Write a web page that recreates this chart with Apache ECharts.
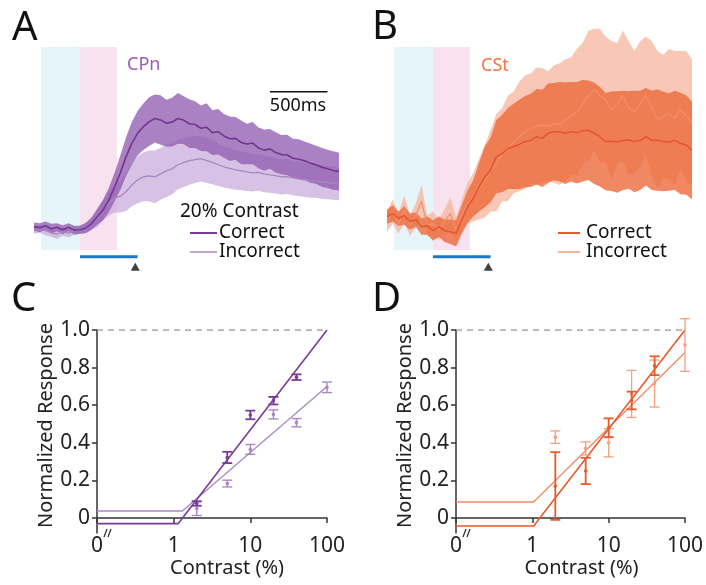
<!DOCTYPE html>
<html>
<head>
<meta charset="utf-8">
<script src="https://cdn.jsdelivr.net/npm/echarts@6/dist/echarts.min.js"></script>
<style>
html, body { margin: 0; padding: 0; background: #fff; }
#main { width: 706px; height: 585px; }
</style>
</head>
<body>
<div id="main"></div>
<script>
// time from stimulus onset (ms), shared by panels A and B
const timeMs = [-400,-350,-300,-250,-200,-150,-100,-50,0,50,100,150,200,250,300,350,400,450,500,550,
  600,650,700,750,800,850,900,950,1000,1050,1100,1150,1200,1250,1300,1350,1400,1450,1500,1550,
  1600,1650,1700,1750,1800,1850,1900,1950,2000,2050,2100,2150,2200,2250];

// A: CPn, 20% contrast (normalized rate, mean and sem)
const cpnCorrect = [0.115,0.11,0.12,0.105,0.112,0.10,0.112,0.098,0.10,0.108,0.13,0.164,0.197,0.246,0.31,0.38,0.46,0.525,0.575,0.607,
  0.632,0.648,0.64,0.625,0.63,0.648,0.64,0.622,0.618,0.60,0.605,0.578,0.583,0.562,0.548,0.55,0.53,0.522,0.527,0.503,
  0.492,0.498,0.48,0.47,0.468,0.452,0.447,0.44,0.428,0.42,0.408,0.40,0.392,0.386];
const cpnCorrectSem = [0.02,0.022,0.02,0.024,0.02,0.022,0.02,0.022,0.02,0.025,0.03,0.04,0.05,0.06,0.07,0.085,0.095,0.105,0.11,0.115,
  0.12,0.118,0.122,0.115,0.12,0.125,0.118,0.12,0.115,0.112,0.118,0.11,0.112,0.108,0.11,0.105,0.108,0.10,0.104,0.10,
  0.102,0.098,0.10,0.097,0.10,0.096,0.098,0.095,0.097,0.094,0.096,0.094,0.095,0.093];
const cpnIncorrect = [0.10,0.105,0.095,0.085,0.078,0.09,0.083,0.095,0.10,0.11,0.13,0.155,0.195,0.23,0.255,0.265,0.287,0.32,0.345,0.36,
  0.365,0.36,0.375,0.39,0.40,0.42,0.43,0.44,0.445,0.45,0.44,0.432,0.42,0.41,0.402,0.395,0.39,0.385,0.38,0.382,
  0.375,0.37,0.366,0.36,0.362,0.355,0.35,0.346,0.342,0.34,0.335,0.332,0.33,0.325];
const cpnIncorrectSem = [0.02,0.02,0.022,0.02,0.024,0.02,0.022,0.02,0.02,0.025,0.03,0.04,0.05,0.06,0.07,0.08,0.095,0.105,0.115,0.12,
  0.125,0.13,0.128,0.13,0.125,0.122,0.12,0.118,0.115,0.112,0.11,0.108,0.105,0.102,0.10,0.098,0.096,0.094,0.092,0.09,
  0.09,0.088,0.088,0.086,0.086,0.085,0.085,0.084,0.084,0.083,0.083,0.082,0.082,0.08];

// B: CSt
const cstCorrect = [0.164,0.18,0.155,0.17,0.14,0.15,0.115,0.12,0.095,0.115,0.095,0.09,0.082,0.15,0.213,0.255,0.31,0.36,0.394,0.46,
  0.475,0.50,0.51,0.52,0.534,0.54,0.558,0.55,0.575,0.583,0.583,0.575,0.583,0.578,0.588,0.59,0.575,0.558,0.534,0.536,
  0.532,0.54,0.542,0.534,0.54,0.558,0.54,0.542,0.534,0.532,0.54,0.525,0.517,0.49];
const cstCorrectSem = [0.035,0.04,0.035,0.045,0.04,0.035,0.04,0.045,0.05,0.05,0.055,0.06,0.065,0.07,0.08,0.09,0.12,0.15,0.16,0.18,
  0.19,0.20,0.21,0.22,0.225,0.23,0.235,0.24,0.245,0.24,0.245,0.25,0.245,0.25,0.25,0.245,0.25,0.245,0.24,0.245,
  0.25,0.245,0.24,0.25,0.245,0.24,0.245,0.25,0.245,0.24,0.245,0.25,0.245,0.24];
const cstIncorrect = [0.14,0.19,0.13,0.20,0.12,0.17,0.24,0.12,0.13,0.10,0.14,0.18,0.10,0.17,0.23,0.26,0.30,0.34,0.39,0.43,
  0.47,0.50,0.53,0.56,0.58,0.60,0.61,0.615,0.61,0.62,0.62,0.64,0.66,0.68,0.72,0.76,0.79,0.76,0.74,0.69,
  0.72,0.76,0.70,0.68,0.72,0.76,0.70,0.64,0.66,0.67,0.65,0.69,0.66,0.63];
const cstIncorrectSem = [0.05,0.06,0.05,0.07,0.05,0.06,0.08,0.05,0.06,0.05,0.06,0.08,0.06,0.08,0.10,0.12,0.15,0.18,0.20,0.24,
  0.23,0.26,0.25,0.27,0.28,0.27,0.29,0.28,0.27,0.29,0.30,0.30,0.29,0.31,0.30,0.32,0.30,0.33,0.31,0.34,
  0.30,0.32,0.33,0.30,0.31,0.29,0.33,0.34,0.30,0.32,0.33,0.29,0.32,0.31];

// task epochs (ms)
const epochFix = [-340, 0];
const epochStim = [0, 320];
const cueBar = [0, 500];
const cueMark = 480;
const scaleBar = [1650, 2150];

// C / D: contrast response (0% contrast sits at 0.1 on the log axis)
const contrasts = [2, 5, 10, 20, 40, 100];
const cpnRespCorrect = [0.077, 0.322, 0.548, 0.624, 0.749, null];
const cpnErrCorrect = [0.012, 0.03, 0.023, 0.02, 0.015, null];
const cpnRespIncorrect = [0.05, 0.183, 0.365, 0.551, 0.507, 0.695];
const cpnErrIncorrect = [0.037, 0.018, 0.026, 0.024, 0.022, 0.028];
const cstRespCorrect = [0.17, 0.25, 0.48, 0.625, 0.81, null];
const cstErrCorrect = [0.18, 0.07, 0.05, 0.047, 0.05, null];
const cstRespIncorrect = [0.43, 0.37, 0.40, 0.66, 0.715, 0.92];
const cstErrIncorrect = [0.033, 0.035, 0.075, 0.125, 0.125, 0.14];
const cpnFitCorrect = [[0.1, -0.03], [1.15, -0.03], [100, 1.0]];
const cpnFitIncorrect = [[0.1, 0.037], [1.3, 0.037], [100, 0.70]];
const cstFitCorrect = [[0.1, -0.043], [1.04, -0.043], [100, 1.0]];
const cstFitIncorrect = [[0.1, 0.085], [1.04, 0.085], [100, 0.88]];

const purple = '#7a3b9a', purpleLight = '#a987c4';
const orange = '#e85a2a', orangeLight = '#f08a62';
const FONT = 'Noto Sans';

const chart = echarts.init(document.getElementById('main'));

// mean +/- sem band drawn as one polygon through the axis scales
function band(idx, mean, sem, color, opacity) {
  return { type: 'custom', xAxisIndex: idx, yAxisIndex: idx, silent: true, z: 2, clip: true,
    data: [[timeMs[0], mean[0]]],
    renderItem: function (params, api) {
      const upper = timeMs.map((t, i) => api.coord([t, mean[i] + sem[i]]));
      const lower = timeMs.map((t, i) => api.coord([t, mean[i] - sem[i]])).reverse();
      return { type: 'polygon', shape: { points: upper.concat(lower) },
        style: { fill: color, opacity: opacity } };
    } };
}

function trace(idx, mean, color, w) {
  return { type: 'line', xAxisIndex: idx, yAxisIndex: idx, showSymbol: false, silent: true, z: 3,
    data: timeMs.map((t, i) => [t, mean[i]]), lineStyle: { color: color, width: w } };
}

function epochs(idx) {
  return { type: 'line', xAxisIndex: idx, yAxisIndex: idx, z: 0, silent: true, showSymbol: false,
    data: [[timeMs[0], 0]], lineStyle: { opacity: 0 },
    markArea: { silent: true, data: [
      [{ xAxis: epochFix[0], yAxis: 0, itemStyle: { color: '#e6f5f9' } }, { xAxis: epochFix[1], yAxis: 1 }],
      [{ xAxis: epochStim[0], yAxis: 0, itemStyle: { color: '#f9e2ef' } }, { xAxis: epochStim[1], yAxis: 1 }]
    ] } };
}

function cue(idx) {
  return [
    { type: 'line', xAxisIndex: idx, yAxisIndex: idx, showSymbol: false, silent: true, z: 3,
      data: [[cueBar[0], -0.033], [cueBar[1], -0.033]], lineStyle: { color: '#1f77c4', width: 3 } },
    { type: 'scatter', xAxisIndex: idx, yAxisIndex: idx, silent: true, z: 3, symbol: 'triangle',
      symbolSize: [9, 8], data: [[cueMark, -0.082]], itemStyle: { color: '#111' } }
  ];
}

function errBars(idx, resp, err, color, lw, cap) {
  const data = contrasts.map((c, i) => [c, resp[i], err[i]]).filter(d => d[1] != null);
  return { type: 'custom', xAxisIndex: idx, yAxisIndex: idx, z: 4, silent: true, data: data,
    renderItem: function (params, api) {
      const x = api.value(0), m = api.value(1), e = api.value(2);
      const top = api.coord([x, m + e]), bot = api.coord([x, m - e]), mid = api.coord([x, m]);
      const st = { stroke: color, lineWidth: lw };
      return { type: 'group', children: [
        { type: 'line', shape: { x1: top[0], y1: top[1], x2: bot[0], y2: bot[1] }, style: st },
        { type: 'line', shape: { x1: top[0] - cap, y1: top[1], x2: top[0] + cap, y2: top[1] }, style: st },
        { type: 'line', shape: { x1: bot[0] - cap, y1: bot[1], x2: bot[0] + cap, y2: bot[1] }, style: st },
        { type: 'circle', shape: { cx: mid[0], cy: mid[1], r: 1.8 }, style: { fill: color } }
      ] };
    } };
}

function fit(idx, pts, color, w) {
  return { type: 'line', xAxisIndex: idx, yAxisIndex: idx, showSymbol: false, silent: true, z: 3,
    data: pts, lineStyle: { color: color, width: w } };
}

function refLine(idx) {
  return { type: 'line', xAxisIndex: idx, yAxisIndex: idx, showSymbol: false, silent: true, z: 2,
    data: [[0.1, 1], [100, 1]], lineStyle: { color: '#9a9a9a', width: 1.5, type: [6, 5] } };
}

const topY = { type: 'value', show: false, min: -25 / 203, max: 230 / 203 };
const topX = { type: 'value', show: false, min: -400, max: 2250 };
const axisCol = '#333';
function crX(idx, shift) {
  return { type: 'log', logBase: 10, min: 0.1, max: 100, gridIndex: idx,
    name: 'Contrast (%)', nameLocation: 'middle', nameGap: 24,
    nameTextStyle: { fontFamily: FONT, fontSize: 20, color: '#222', padding: [0, 0, 0, shift] },
    axisLine: { lineStyle: { color: axisCol, width: 1.5 } },
    axisTick: { length: 5, lineStyle: { color: axisCol, width: 1.5 } },
    axisLabel: { margin: 3, fontFamily: FONT, fontSize: 21, color: '#222',
      formatter: v => (v < 1 ? '0' : String(Math.round(v))) },
    splitLine: { show: false } };
}
function crY(idx) {
  return { type: 'value', min: -0.08, max: 1.0, gridIndex: idx,
    name: 'Normalized Response', nameLocation: 'middle', nameGap: 40,
    nameTextStyle: { fontFamily: FONT, fontSize: 20, color: '#222', padding: [0, 0, 0, 12] },
    axisLine: { show: true, lineStyle: { color: axisCol, width: 1.5 } },
    axisTick: { show: true, length: 5, lineStyle: { color: axisCol, width: 1.5 },
      customValues: [0, 0.2, 0.4, 0.6, 0.8, 1.0] },
    axisLabel: { margin: 7, fontFamily: FONT, fontSize: 21, color: '#222',
      customValues: [0, 0.2, 0.4, 0.6, 0.8, 1.0],
      formatter: v => (Math.abs(v) < 1e-9 ? '0' : v.toFixed(1)) },
    splitLine: { show: false } };
}

function txt(x, y, s, size, color, align) {
  return { type: 'text', x: x, y: y, silent: true,
    style: { text: s, fontFamily: FONT, fontSize: size, fill: color || '#111',
      align: align || 'left', verticalAlign: 'middle' } };
}
function seg(x1, y1, x2, y2, color, w) {
  return { type: 'line', silent: true, shape: { x1: x1, y1: y1, x2: x2, y2: y2 },
    style: { stroke: color, lineWidth: w } };
}
function axisBreak(x0) {
  return [
    { type: 'rect', silent: true, shape: { x: x0 + 4, y: 529, width: 10, height: 8 }, style: { fill: '#fff' } },
    seg(x0 + 7, 537, x0 + 10, 529, '#333', 1.3),
    seg(x0 + 11, 537, x0 + 14, 529, '#333', 1.3)
  ];
}

chart.setOption({
  animation: false,
  grid: [
    { left: 34, top: 20, width: 305, height: 255 },
    { left: 387, top: 20, width: 305, height: 255 },
    { left: 97, top: 330, width: 230, height: 203 },
    { left: 456, top: 330, width: 230, height: 203 }
  ],
  xAxis: [Object.assign({ gridIndex: 0 }, topX), Object.assign({ gridIndex: 1 }, topX), crX(2, 30), crX(3, 22)],
  yAxis: [Object.assign({ gridIndex: 0 }, topY), Object.assign({ gridIndex: 1 }, topY), crY(2), crY(3)],
  series: [
    epochs(0),
    band(0, cpnIncorrect, cpnIncorrectSem, '#c9acdb', 0.75),
    band(0, cpnCorrect, cpnCorrectSem, '#8f5bb0', 0.76),
    trace(0, cpnIncorrect, '#a886c0', 1.3),
    trace(0, cpnCorrect, '#73368f', 1.6),
    ...cue(0),
    { type: 'line', xAxisIndex: 0, yAxisIndex: 0, showSymbol: false, silent: true, z: 3,
      data: [[scaleBar[0], 0.78], [scaleBar[1], 0.78]], lineStyle: { color: '#111', width: 1.5 } },

    epochs(1),
    band(1, cstIncorrect, cstIncorrectSem, '#f6b49c', 0.75),
    band(1, cstCorrect, cstCorrectSem, '#ec6a3c', 0.8),
    trace(1, cstIncorrect, '#f28f68', 1.2),
    trace(1, cstCorrect, '#e5552a', 1.5),
    ...cue(1),

    refLine(2),
    fit(2, cpnFitIncorrect, purpleLight, 1.3),
    fit(2, cpnFitCorrect, purple, 1.6),
    errBars(2, cpnRespIncorrect, cpnErrIncorrect, purpleLight, 1.4, 5),
    errBars(2, cpnRespCorrect, cpnErrCorrect, purple, 1.8, 5),

    refLine(3),
    fit(3, cstFitIncorrect, orangeLight, 1.3),
    fit(3, cstFitCorrect, orange, 1.6),
    errBars(3, cstRespIncorrect, cstErrIncorrect, '#f4a07c', 1.3, 5),
    errBars(3, cstRespCorrect, cstErrCorrect, orange, 1.8, 5)
  ],
  graphic: [
    txt(12, 29, 'A', 40), txt(372, 28, 'B', 40), txt(11, 300, 'C', 40), txt(372, 300, 'D', 40),
    txt(127, 65, 'CPn', 18, '#9b5cb4'),
    txt(481, 66, 'CSt', 18, '#f07343'),
    txt(298, 106, '500ms', 18, '#111', 'center'),
    txt(180, 212, '20% Contrast', 19),
    seg(190, 233, 217, 233, '#7a3b9a', 2), txt(219, 233, 'Correct', 19),
    seg(190, 252, 217, 252, '#c3a8d6', 2), txt(219, 252, 'Incorrect', 19),
    seg(558, 233, 580, 233, '#e85a2a', 2), txt(586, 233, 'Correct', 19),
    seg(558, 252, 580, 252, '#f6b59c', 2), txt(586, 252, 'Incorrect', 19),
    ...axisBreak(97), ...axisBreak(456)
  ]
});
</script>
</body>
</html>
